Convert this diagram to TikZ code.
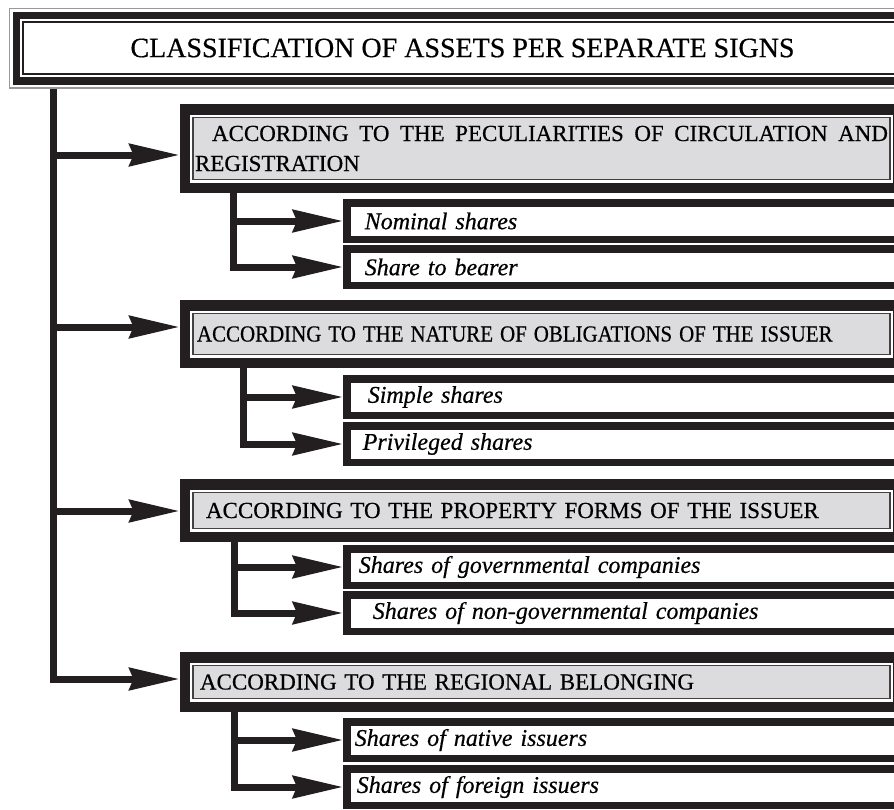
\documentclass[tikz,border=0pt]{standalone}
\usepackage{fontspec}
\setmainfont{Liberation Serif}[FakeBold=0.5]
\usepackage{graphicx}
\usetikzlibrary{arrows.meta, calc}
\definecolor{ink}{RGB}{35,31,32}
\definecolor{catgray}{RGB}{220,220,222}
\tikzset{
  titlebox/.style={draw=ink, line width=1.5pt, fill=white, inner sep=0pt, outer sep=14.5pt,
    minimum width=879pt, minimum height=52pt,
    preaction={draw=black!40, line width=29pt},
    preaction={draw=white, line width=26pt},
    preaction={draw=ink, line width=21pt},
    preaction={draw=white, line width=6pt},
    font=\fontsize{28}{32}\selectfont},
  catbox/.style={draw=ink!85, line width=1.5pt, fill=catgray, inner xsep=2pt, inner ysep=0pt,
    outer sep=13.5pt, text width=693pt, align=left,
    preaction={draw=ink, line width=27pt},
    preaction={draw=white, line width=6pt},
    font=\fontsize{23}{30}\selectfont},
  subbox/.style={draw=ink, line width=7.5pt, fill=white, inner xsep=12pt, inner ysep=0pt,
    outer sep=3.75pt, minimum height=36.5pt, text width=560pt, align=left, anchor=west,
    font=\fontsize{24}{28}\selectfont\itshape},
  arr/.style={draw=ink, line width=7pt, -{Stealth[length=50pt,width=22pt,inset=4pt]}}
}
\begin{document}
\begin{tikzpicture}[x=1pt, y=-1pt]
  \useasboundingbox (0,0) rectangle (894,809);
  \clip (0,0) rectangle (894,809);

  \node[titlebox] (title) at (462.5,48) {CLASSIFICATION OF ASSETS PER SEPARATE SIGNS};

  \node[catbox, minimum height=62pt, align=justify] (cat1) at (541.5,148.5)
    {\hspace*{17pt}ACCORDING TO THE PECULIARITIES OF CIRCULATION AND REGISTRATION};
  \node[catbox, minimum height=41pt] (cat2) at (541.5,334)
    {\hspace*{2pt}\scalebox{0.91}[1]{ACCORDING TO THE NATURE OF OBLIGATIONS OF THE ISSUER}};
  \node[catbox, minimum height=36pt] (cat3) at (541.5,510.5)
    {\hspace*{11pt}ACCORDING TO THE PROPERTY FORMS OF THE ISSUER};
  \node[catbox, minimum height=33pt] (cat4) at (541.5,682)
    {\hspace*{5pt}ACCORDING TO THE REGIONAL BELONGING};

  \node[subbox] (s11) at (343,221) {\hspace*{6pt}Nominal shares};
  \node[subbox] (s12) at (343,267) {\hspace*{6pt}Share to bearer};
  \node[subbox] (s21) at (343,397) {\hspace*{9pt}Simple shares};
  \node[subbox] (s22) at (343,444) {\hspace*{4pt}Privileged shares};
  \node[subbox] (s31) at (343,567) {Shares of governmental companies};
  \node[subbox] (s32) at (343,613) {\hspace*{14pt}Shares of non-governmental companies};
  \node[subbox] (s41) at (343,740) {\hspace*{-4pt}Shares of native issuers};
  \node[subbox] (s42) at (343,787) {\hspace*{-2pt}Shares of foreign issuers};

  \coordinate (b1) at (53.5,155);
  \coordinate (b2) at (53.5,327);
  \coordinate (b3) at (53.5,511);
  \coordinate (b4) at (53.5,679);

  \draw[arr] (title.south -| b1) |- (b4 -| cat4.west);
  \foreach \i in {1,2,3}
    \draw[arr] (b\i) -- (b\i -| cat\i.west);

  \foreach \i/\d in {1/53.5,2/63.5,3/54.5,4/54.5} {
    \draw[arr] ([xshift=\d pt]cat\i.south west) |- (s\i1.west);
    \draw[arr] ([xshift=\d pt]cat\i.south west) |- (s\i2.west);
  }
\end{tikzpicture}
\end{document}
